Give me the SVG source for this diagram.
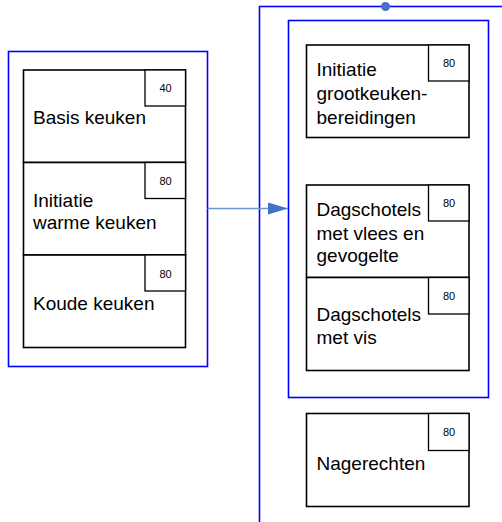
<svg xmlns="http://www.w3.org/2000/svg" width="502" height="522" viewBox="0 0 502 522">
<defs>
<style>
.grp{fill:none;stroke:#0000ff;stroke-width:1.6}
.box{fill:#fff;stroke:#000;stroke-width:1.6}
.tag{fill:#fff;stroke:#000;stroke-width:1.3}
.lbl{font-family:"Liberation Sans",Arial,sans-serif;font-size:19px;fill:#000}
.num{font-family:"Liberation Sans",Arial,sans-serif;font-size:11px;fill:#000;text-anchor:middle}
</style>
<marker id="arr" markerWidth="20" markerHeight="12" refX="20" refY="6" orient="auto" markerUnits="userSpaceOnUse">
<path d="M0,0 L20,6 L0,12 Z" fill="#4472c4"/>
</marker>
</defs>
<rect width="502" height="522" fill="#fff"/>
<g id="group-left"><rect class="grp" x="8.5" y="51.5" width="199" height="315"/></g>
<g id="group-right-outer"><rect class="grp" x="259.5" y="6.5" width="250" height="530"/><circle cx="385.5" cy="6.5" r="4.5" fill="#4472c4"/></g>
<g id="group-right-inner"><rect class="grp" x="288.5" y="20.5" width="200" height="377"/></g>
<g id="connectors"><line x1="207.5" y1="208.5" x2="288" y2="208.5" stroke="#6f95d0" stroke-width="1.3" marker-end="url(#arr)"/></g>
<g id="basis"><rect class="box" x="23.5" y="70" width="162" height="92.5"/><rect class="tag" x="145" y="70" width="40.5" height="36"/><text class="num" x="165.5" y="92">40</text><text class="lbl" x="33" y="124">Basis keuken</text></g>
<g id="warm"><rect class="box" x="23.5" y="162.5" width="162" height="92.5"/><rect class="tag" x="145" y="162.5" width="40.5" height="36"/><text class="num" x="165.5" y="185">80</text><text class="lbl" x="33" y="206.5">Initiatie</text><text class="lbl" x="33" y="228.5">warme keuken</text></g>
<g id="koud"><rect class="box" x="23.5" y="255" width="162" height="92.5"/><rect class="tag" x="145" y="255" width="40.5" height="36"/><text class="num" x="165.5" y="277.5">80</text><text class="lbl" x="33" y="309.5">Koude keuken</text></g>
<g id="grootkeuken"><rect class="box" x="306.5" y="45" width="162.5" height="92.5"/><rect class="tag" x="428.5" y="45" width="40.5" height="36"/><text class="num" x="449" y="67">80</text><text class="lbl" x="316.5" y="76">Initiatie</text><text class="lbl" x="316.5" y="100">grootkeuken-</text><text class="lbl" x="316.5" y="123.5">bereidingen</text></g>
<g id="vlees"><rect class="box" x="306.5" y="185" width="162.5" height="92.5"/><rect class="tag" x="428.5" y="185" width="40.5" height="36"/><text class="num" x="449" y="207">80</text><text class="lbl" x="316.5" y="216">Dagschotels</text><text class="lbl" x="316.5" y="239.5">met vlees en</text><text class="lbl" x="316.5" y="262">gevogelte</text></g>
<g id="vis"><rect class="box" x="306.5" y="277.5" width="162.5" height="93"/><rect class="tag" x="428.5" y="277.5" width="40.5" height="36.5"/><text class="num" x="449" y="300">80</text><text class="lbl" x="316.5" y="320.5">Dagschotels</text><text class="lbl" x="316.5" y="343.5">met vis</text></g>
<g id="nagerechten"><rect class="box" x="306.5" y="413.5" width="162.5" height="93"/><rect class="tag" x="428.5" y="413.5" width="40.5" height="37"/><text class="num" x="449" y="436">80</text><text class="lbl" x="316.5" y="469.5">Nagerechten</text></g>
</svg>
